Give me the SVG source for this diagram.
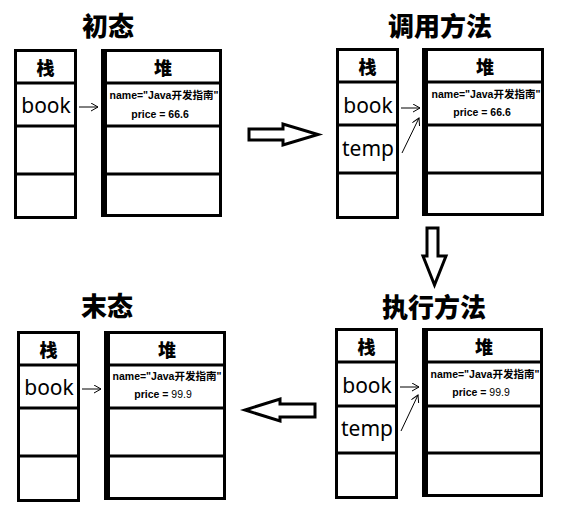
<svg xmlns="http://www.w3.org/2000/svg" width="576" height="519" viewBox="0 0 576 519">
<style>
.box{fill:#fff;stroke:#000;stroke-width:3}
.div{stroke:#000;stroke-width:3}
.title{font-family:"Noto Sans CJK SC","Noto Sans CJK JP",sans-serif;font-weight:900;font-size:26px;text-anchor:middle;fill:#000}
.hd{font-family:"Noto Sans CJK SC",sans-serif;font-weight:900;font-size:18px;text-anchor:middle;fill:#000}
.var{font-family:"Noto Sans","Open Sans",sans-serif;font-size:21px;text-anchor:middle;fill:#000}
.val{font-family:"Liberation Sans","Noto Sans CJK SC",sans-serif;font-weight:bold;font-size:10.5px;text-anchor:middle;fill:#000}
.n{font-weight:normal}
.ref{stroke:#000;stroke-width:1;fill:none}
.blk{fill:#fff;stroke:#000;stroke-width:3;stroke-linejoin:miter}
</style>
<defs>
<marker id="ah" markerWidth="10" markerHeight="10" refX="7" refY="4" orient="auto" markerUnits="userSpaceOnUse">
<path d="M0,0 L7,4 L0,8" fill="none" stroke="#000" stroke-width="1"/>
</marker>
</defs>
<rect width="576" height="519" fill="#fff"/>

<text class="title" x="108" y="36">初态</text>
<text class="title" x="440" y="36">调用方法</text>
<text class="title" x="434" y="317">执行方法</text>
<text class="title" x="107" y="316">末态</text>

<g id="panel-initial" transform="translate(14,49)">
 <g id="stack-initial">
  <rect class="box" x="1.5" y="1.5" width="60" height="167"/>
  <line class="div" x1="0" y1="34" x2="63" y2="34"/>
  <line class="div" x1="0" y1="77" x2="63" y2="77"/>
  <line class="div" x1="0" y1="125" x2="63" y2="125"/>
  <text class="hd" x="31.5" y="26">栈</text>
  <text class="var" x="32" y="64">book</text>
 </g>
 <g id="heap-initial">
  <rect class="box" x="88.5" y="1.5" width="118" height="165"/>
  <rect x="87" y="0" width="6" height="168" fill="#000"/>
  <line class="div" x1="87" y1="34" x2="208" y2="34"/>
  <line class="div" x1="87" y1="77" x2="208" y2="77"/>
  <line class="div" x1="87" y1="125" x2="208" y2="125"/>
  <text class="hd" x="149" y="26">堆</text>
  <text class="val" x="150" y="50">name="Java开发指南"</text>
  <text class="val" x="146" y="69">price = 66.6</text>
 </g>
</g>

<g id="panel-call" transform="translate(336,48)">
 <g id="stack-call">
  <rect class="box" x="1.5" y="1.5" width="60" height="168"/>
  <line class="div" x1="0" y1="34" x2="63" y2="34"/>
  <line class="div" x1="0" y1="77" x2="63" y2="77"/>
  <line class="div" x1="0" y1="125" x2="63" y2="125"/>
  <text class="hd" x="31.5" y="26">栈</text>
  <text class="var" x="32" y="65">book</text>
  <text class="var" x="32" y="108">temp</text>
 </g>
 <g id="heap-call">
  <rect class="box" x="87.5" y="1.5" width="119" height="165"/>
  <rect x="86" y="0" width="6" height="168" fill="#000"/>
  <line class="div" x1="86" y1="34" x2="208" y2="34"/>
  <line class="div" x1="86" y1="77" x2="208" y2="77"/>
  <line class="div" x1="86" y1="125" x2="208" y2="125"/>
  <text class="hd" x="149" y="26">堆</text>
  <text class="val" x="150" y="50">name="Java开发指南"</text>
  <text class="val" x="146" y="68">price = 66.6</text>
 </g>
</g>

<g id="panel-exec" transform="translate(335,328)">
 <g id="stack-exec">
  <rect class="box" x="1.5" y="1.5" width="60" height="168"/>
  <line class="div" x1="0" y1="34" x2="63" y2="34"/>
  <line class="div" x1="0" y1="78" x2="63" y2="78"/>
  <line class="div" x1="0" y1="125" x2="63" y2="125"/>
  <text class="hd" x="31.5" y="26">栈</text>
  <text class="var" x="32" y="65">book</text>
  <text class="var" x="32" y="108">temp</text>
 </g>
 <g id="heap-exec">
  <rect class="box" x="88.5" y="1.5" width="118" height="166"/>
  <rect x="87" y="0" width="6" height="169" fill="#000"/>
  <line class="div" x1="87" y1="34" x2="208" y2="34"/>
  <line class="div" x1="87" y1="78" x2="208" y2="78"/>
  <line class="div" x1="87" y1="125" x2="208" y2="125"/>
  <text class="hd" x="149" y="26">堆</text>
  <text class="val" x="150" y="50">name="Java开发指南"</text>
  <text class="val" x="146" y="68">price = <tspan class="n">99.9</tspan></text>
 </g>
</g>

<g id="panel-final" transform="translate(17,331)">
 <g id="stack-final">
  <rect class="box" x="1.5" y="1.5" width="60" height="168"/>
  <line class="div" x1="0" y1="34" x2="63" y2="34"/>
  <line class="div" x1="0" y1="77" x2="63" y2="77"/>
  <line class="div" x1="0" y1="125" x2="63" y2="125"/>
  <text class="hd" x="31.5" y="26">栈</text>
  <text class="var" x="32" y="64">book</text>
 </g>
 <g id="heap-final">
  <rect class="box" x="88.5" y="1.5" width="119" height="166"/>
  <rect x="87" y="0" width="6" height="169" fill="#000"/>
  <line class="div" x1="87" y1="34" x2="209" y2="34"/>
  <line class="div" x1="87" y1="77" x2="209" y2="77"/>
  <line class="div" x1="87" y1="125" x2="209" y2="125"/>
  <text class="hd" x="150" y="26">堆</text>
  <text class="val" x="150" y="49">name="Java开发指南"</text>
  <text class="val" x="146" y="67">price = <tspan class="n">99.9</tspan></text>
 </g>
</g>

<g id="connectors">
 <line class="ref" x1="79" y1="107" x2="98" y2="107" marker-end="url(#ah)"/>
 <line class="ref" x1="401" y1="108" x2="420" y2="108" marker-end="url(#ah)"/>
 <line class="ref" x1="402" y1="153" x2="419" y2="118" marker-end="url(#ah)"/>
 <line class="ref" x1="400" y1="387" x2="419" y2="387" marker-end="url(#ah)"/>
 <line class="ref" x1="401" y1="431" x2="418" y2="395" marker-end="url(#ah)"/>
 <line class="ref" x1="82" y1="389" x2="101" y2="389" marker-end="url(#ah)"/>
 <polygon class="blk" points="249,129 283,129 283,124 318,134.5 283,145 283,140 249,140"/>
 <polygon class="blk" points="427,228 438,228 438,256 446,256 434.5,285 423,256 427,256"/>
 <polygon class="blk" points="315,404 280,404 280,399 245,410 280,421 280,417 315,417"/>
</g>
</svg>
